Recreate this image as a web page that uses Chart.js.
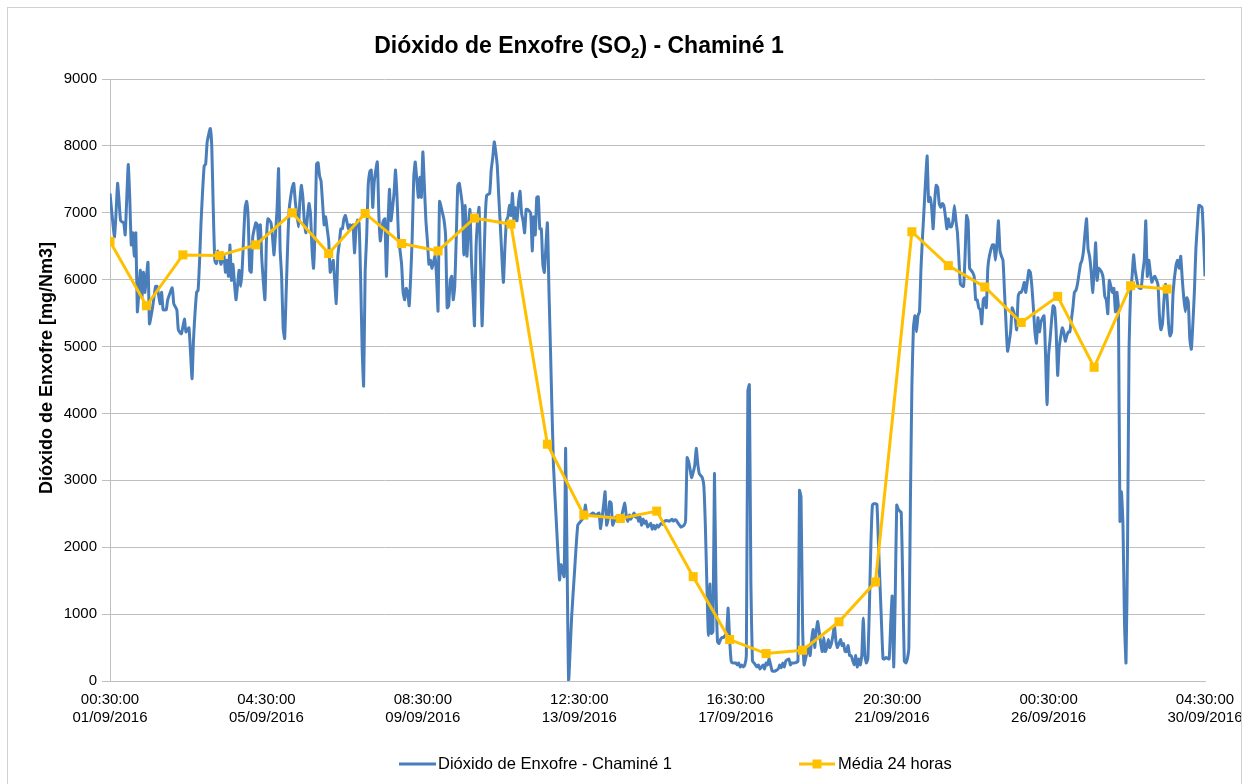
<!DOCTYPE html>
<html>
<head>
<meta charset="utf-8">
<script src="https://cdn.jsdelivr.net/npm/chart.js@4"></script>
<style>
html,body{margin:0;padding:0;background:#fff;}
#wrap{width:1249px;height:784px;position:relative;}
</style>
</head>
<body>
<div id="wrap"><canvas id="c" width="1249" height="784"></canvas></div>
<script>
// ---- data ----
const tickIndex = [0, 103, 206, 309, 412, 515, 618, 721];
const tickTimes = ['00:30:00','04:30:00','08:30:00','12:30:00','16:30:00','20:30:00','00:30:00','04:30:00'];
const tickDates = ['01/09/2016','05/09/2016','09/09/2016','13/09/2016','17/09/2016','21/09/2016','26/09/2016','30/09/2016'];
const yTicks = [0,1000,2000,3000,4000,5000,6000,7000,8000,9000];

// hourly SO2 readings [category index, mg/Nm3]
const so2Readings = [
[0,7290],[3,6640],[5,7440],[6,7170],[7,6880],[9,6850],[10,6670],[12,7720],[13,7230],[14,6520],[15,6700],[16,6350],[17,6700],[18,5520],[19,5810],[20,6140],[21,5730],[22,6110],[23,5810],[25,6260],[26,5340],[28,5580],[30,5900],[31,5900],[33,5640],[34,5810],[35,5550],[37,5550],[38,5700],[41,5880],[42,5640],[44,5550],[45,5250],[47,5190],[49,5410],[50,5220],[52,5280],[54,4520],[55,5110],[57,5810],[58,5840],[59,6290],[60,6880],[62,7700],[63,7730],[64,8060],[66,8260],[67,8000],[68,7050],[69,6290],[70,6240],[71,6430],
[73,6230],[75,6370],[76,6110],[77,6290],[78,6050],[79,6520],[80,5990],[81,6230],[82,5930],[83,5700],[85,6140],[86,5900],[87,6140],[88,6640],[89,7080],[90,7170],[91,6910],[92,6140],[93,6110],[94,6640],[96,6850],[97,6820],[98,6520],[99,6820],[100,6290],[102,5700],[103,6580],[104,6910],[106,6850],[107,6640],[108,6370],[109,6700],[110,7050],[111,7660],[112,6460],[113,6050],[114,5280],[115,5120],[116,5810],[117,6520],[118,7050],[120,7380],[121,7440],[122,7170],[124,6790],[125,7170],[126,7410],[127,7230],[128,6850],[129,6700],[130,6940],[131,7140],[132,6990],[133,6460],[134,6170],[135,6730],[136,7730],[137,7750],[138,7550],[139,7470],[141,6820],[142,6940],[143,6760],[144,6580],[145,6110],
[146,6200],[147,6290],[149,5640],[150,6350],[151,6550],[152,6760],[153,6760],[154,6910],[155,6960],[157,6760],[158,6820],[159,6790],[160,6820],[161,6400],[162,6760],[163,6890],[164,6850],[165,6050],[166,4990],[167,4410],[168,6110],[169,6640],[170,7410],[171,7610],[172,7640],[173,7080],[174,7470],[176,7760],[177,6990],[178,6580],[179,6760],[180,6880],[181,6910],[182,6050],[183,6790],[184,7350],[185,6880],[187,7290],[188,7640],[189,7230],[190,6640],[192,6230],[193,5810],[194,5700],[195,5870],[196,5810],[197,5610],[198,6050],[199,6640],[200,7530],[201,7760],[203,7230],[204,7530],[205,7230],[206,7910],[207,7410],[208,6880],[209,6580],[210,6230],[211,6290],[212,6170],[214,6350],[215,6050],[216,5530],[217,7170],
[219,6990],[220,6880],[221,6640],[222,5580],[223,5610],[224,5990],[225,6050],[226,5700],[227,5900],[228,6640],[229,7410],[230,7440],[232,7110],[233,6370],[234,7110],[235,6350],[236,6760],[237,7050],[238,6290],[239,5810],[240,5310],[241,6460],[242,6880],[243,7080],[244,6230],[245,5310],[246,6050],[247,6880],[248,7260],[250,7290],[251,7640],[252,7820],[253,8060],[254,7910],[255,7700],[256,7230],[257,6820],[259,5960],[260,6460],[261,6880],[262,6940],[263,7110],[264,6960],[265,7290],[266,6880],[267,7080],[268,6880],[269,7170],[270,7320],[271,6990],[272,6880],[273,6700],[274,7050],[275,7050],[277,6990],[278,6430],[279,6940],[280,6670],[281,7230],[282,7240],[283,6760],[284,6760],[285,6230],[286,6110],[288,6850],[289,5870],[290,4990],
[292,3220],[294,2330],[296,1510],[297,1740],[299,1560],[300,3480],[301,1740],[302,0],[304,970],[306,1680],[308,2330],[310,2390],[312,2450],[313,2630],[314,2480],[316,2480],[318,2510],[320,2480],[322,2510],[323,2280],[325,2630],[326,2830],[327,2330],[328,2420],[329,2680],[330,2660],[331,2330],[333,2450],[334,2390],[335,2450],[336,2420],[337,2480],[339,2660],[340,2450],[341,2390],[342,2480],[343,2420],[345,2510],[346,2450],[347,2480],[348,2390],[349,2450],[350,2330],[351,2420],[352,2360],[353,2390],[354,2300],[356,2360],[357,2270],[358,2330],[359,2270],[360,2330],[361,2300],[362,2330],
[363,2360],[364,2340],[365,2390],[367,2400],[368,2390],[369,2400],[370,2420],[371,2390],[372,2410],[373,2400],[374,2360],[375,2330],[376,2300],[378,2330],[379,2400],[380,3340],[381,3280],[382,3160],[383,3040],[385,3220],[386,3480],[387,3250],[388,3100],[389,3070],[390,3040],[391,2920],[392,2330],[393,1450],[394,680],[395,1450],[396,710],[397,740],[398,3100],[399,1450],[400,590],[401,560],[402,620],[403,650],[404,650],[405,680],[406,710],[407,1090],[408,620],[409,300],[410,270],[412,270],[413,240],[414,270],[415,210],[416,240],[417,210],[418,240],[419,380],[420,4340],[421,4430],[422,1450],[423,300],[424,270],[425,240],[426,210],[427,240],[428,180],[429,210],[430,240],[431,180],[432,270],[433,240],[434,330],
[436,150],[438,150],[440,180],[441,240],[442,200],[443,270],[444,210],[445,300],[447,330],[448,240],[449,270],[451,270],[453,300],[454,2850],[455,2750],[456,860],[457,240],[458,330],[459,440],[460,500],[461,380],[462,620],[463,770],[464,500],[465,740],[466,890],[468,560],[469,440],[470,650],[471,440],[472,500],[473,620],[474,500],[475,560],[476,680],[477,830],[478,590],[479,500],[481,620],[482,530],[483,560],[484,440],[485,440],[486,530],[487,380],[488,380],[490,240],[491,380],[492,210],[493,330],[494,240],[495,380],[496,940],[497,380],[498,270],[499,330],[500,1090],[501,2040],[502,2630],[503,2650],[504,2650],[505,2640],[506,2040],
[508,860],[509,330],[510,330],[511,350],[513,330],[514,830],[515,1270],[516,210],[517,1200],[518,2630],[519,2570],[520,2540],[521,2520],[522,1450],[523,300],[524,270],[525,330],[526,500],[527,2630],[528,4400],[529,5280],[530,5460],[531,5220],[532,5460],[533,5520],[534,6170],[535,6640],[536,7050],[538,7850],[539,7170],[540,7230],[541,7080],[542,6760],[543,7170],[544,7410],[545,7380],[546,7140],[547,7080],[548,7140],[549,7110],[550,6960],[551,6760],[552,6910],[553,6790],[554,6790],[555,6880],[556,7110],[557,6880],[558,6700],[559,6290],[560,5930],[562,5900],[563,6350],[564,6960],[565,6880],[566,6170],[567,6140],[568,6110],[569,6050],[570,5700],[571,5700],[572,5580],[573,5550],[574,5340],[575,5700],[576,5730],[577,5580],[578,6170],[579,6350],
[581,6520],[582,6520],[583,6290],[584,6520],[585,6880],[586,6430],[587,6350],[588,6290],[589,5810],[590,5340],[591,4930],[593,5220],[594,5580],[595,5520],[596,5430],[597,5250],[598,5750],[599,5810],[600,5810],[601,5870],[602,5960],[603,5810],[605,6140],[606,6110],[607,5900],[608,5580],[609,5220],[610,5050],[611,5430],[612,5220],[613,5370],[615,5460],[616,4870],[617,4130],[618,4870],[619,5110],[620,5400],[621,5610],[622,5580],[623,5220],[624,4570],[625,4990],[627,5280],[628,5220],[629,5080],[630,5160],[631,5220],[632,5220],[633,5400],[634,5580],[635,5810],[636,5840],[637,5930],[639,6230],[640,6290],[641,6430],[642,6700],[643,6910],[644,6460],[645,6350],[646,6140],[647,5810],[648,6110],[649,6550],[650,5990],[651,6170],
[653,6110],[654,6020],[655,5750],[656,5700],[657,5490],[658,5990],[660,5810],[661,5870],[662,5520],[663,5810],[664,5580],[665,2390],[666,2830],[667,2330],[668,860],[669,270],[670,2040],[671,4990],[672,5810],[673,6050],[674,6370],[675,6140],[677,5900],[678,5870],[679,5870],[680,6110],[681,6290],[682,6880],[683,6050],[684,6290],[685,6110],[686,5960],[687,6020],[688,6050],[690,5930],[691,5460],[692,5250],[693,5340],[694,5700],[695,5930],[696,5750],[697,5340],[698,5160],[699,5220],[700,5810],[702,6230],[703,6290],[704,6170],[705,6350],[706,6020],[707,5730],[708,5520],[709,5730],[710,5670],[711,5110],[712,4960],[713,5340],[714,5810],[715,6460],[716,6820],[717,7110],[719,7080],[720,6640],[721,6050]
];

// 24-hour averages
const avgIndex  = [0,24,48,72,96,120,144,168,192,216,240,264,288,312,336,360,384,408,432,456,480,504,528,552,576,600,624,648,672,696];
const avgValues = [6570,5610,6370,6360,6520,7000,6390,6990,6540,6430,6920,6830,3540,2480,2430,2540,1560,620,410,460,885,1480,6716,6210,5890,5360,5750,4690,5910,5860];

const seriesNames = ['Dióxido de Enxofre - Chaminé 1','Média 24 horas'];
const blue = '#4a7ebb', yellow = '#ffc000';
const FONT = "'Liberation Sans', Arial, sans-serif";

const decor = {
  id: 'decor',
  afterDraw(chart) {
    const ctx = chart.ctx;
    ctx.save();
    // frame
    ctx.strokeStyle = '#d0d0d0'; ctx.lineWidth = 1;
    ctx.strokeRect(7.5, 7.5, 1234, 800);
    // title with subscript
    ctx.fillStyle = '#000'; ctx.textBaseline = 'alphabetic'; ctx.textAlign = 'left';
    const p1 = 'Dióxido de Enxofre (SO', p2 = '2', p3 = ') - Chaminé 1';
    ctx.font = 'bold 23px ' + FONT;
    const w1 = ctx.measureText(p1).width;
    ctx.font = 'bold 15px ' + FONT;
    const w2 = ctx.measureText(p2).width;
    ctx.font = 'bold 23px ' + FONT;
    const w3 = ctx.measureText(p3).width;
    let x = 579 - (w1 + w2 + w3) / 2, y = 53;
    ctx.fillText(p1, x, y); x += w1;
    ctx.font = 'bold 15px ' + FONT; ctx.fillText(p2, x, y + 5); x += w2;
    ctx.font = 'bold 23px ' + FONT; ctx.fillText(p3, x, y);
    // y-axis title
    ctx.save();
    ctx.translate(47, 368); ctx.rotate(-Math.PI / 2);
    ctx.font = 'bold 18px ' + FONT; ctx.textAlign = 'center'; ctx.textBaseline = 'middle';
    ctx.fillText('Dióxido de Enxofre [mg/Nm3]', 0, 0);
    ctx.restore();
    // legend
    const ly = 764;
    ctx.lineWidth = 3; ctx.strokeStyle = blue;
    ctx.beginPath(); ctx.moveTo(399, ly); ctx.lineTo(436, ly); ctx.stroke();
    ctx.font = '16.5px ' + FONT; ctx.textAlign = 'left'; ctx.textBaseline = 'middle'; ctx.fillStyle = '#000';
    ctx.fillText(seriesNames[0], 438, ly);
    ctx.strokeStyle = yellow;
    ctx.beginPath(); ctx.moveTo(799, ly); ctx.lineTo(835, ly); ctx.stroke();
    ctx.fillStyle = yellow; ctx.fillRect(812.5, ly - 4.5, 9, 9);
    ctx.fillStyle = '#000';
    ctx.fillText(seriesNames[1], 838, ly);
    ctx.restore();
  }
};

new Chart(document.getElementById('c'), {
  type: 'line',
  data: {
    datasets: [
      {
        label: seriesNames[1],
        data: avgIndex.map((x, i) => ({x: x, y: avgValues[i]})),
        borderColor: yellow, backgroundColor: yellow,
        borderWidth: 3, pointStyle: 'rect', pointRadius: 6.4, pointBorderWidth: 0,
        tension: 0, order: 0
      },
      {
        label: seriesNames[0],
        data: so2Readings.map(p => ({x: p[0], y: p[1]})),
        borderColor: blue, backgroundColor: blue,
        borderWidth: 3, pointRadius: 0, tension: 0.15, order: 1,
        borderJoinStyle: 'round'
      }
    ]
  },
  options: {
    responsive: false, animation: false,
    layout: {padding: {left: 0, top: 79, right: 44, bottom: 0}},
    plugins: {legend: {display: false}, title: {display: false}, tooltip: {enabled: false}},
    scales: {
      x: {
        type: 'linear', min: tickIndex[0], max: tickIndex[tickIndex.length - 1],
        afterBuildTicks: s => { s.ticks = tickIndex.map(v => ({value: v})); },
        afterFit: s => { s.height = 103; s.paddingLeft = 0; s.paddingRight = 0; },
        ticks: {
          autoSkip: false, maxRotation: 0, minRotation: 0, padding: 10, color: '#000',
          font: {family: FONT, size: 15, lineHeight: 1.2},
          callback: v => { const i = tickIndex.indexOf(v); return i < 0 ? '' : [tickTimes[i], tickDates[i]]; }
        },
        grid: {display: false, drawTicks: false},
        border: {display: true, color: '#bfbfbf', width: 1}
      },
      y: {
        min: yTicks[0], max: yTicks[yTicks.length - 1],
        afterBuildTicks: s => { s.ticks = yTicks.map(v => ({value: v})); },
        afterFit: s => { s.width = 110; s.paddingTop = 0; s.paddingBottom = 0; },
        ticks: {padding: 5, color: '#000', font: {family: FONT, size: 15}, callback: v => String(v)},
        grid: {color: '#bfbfbf', lineWidth: 1, tickLength: 8, drawTicks: true},
        border: {display: true, color: '#bfbfbf', width: 1}
      }
    }
  },
  plugins: [decor]
});
</script>
</body>
</html>
